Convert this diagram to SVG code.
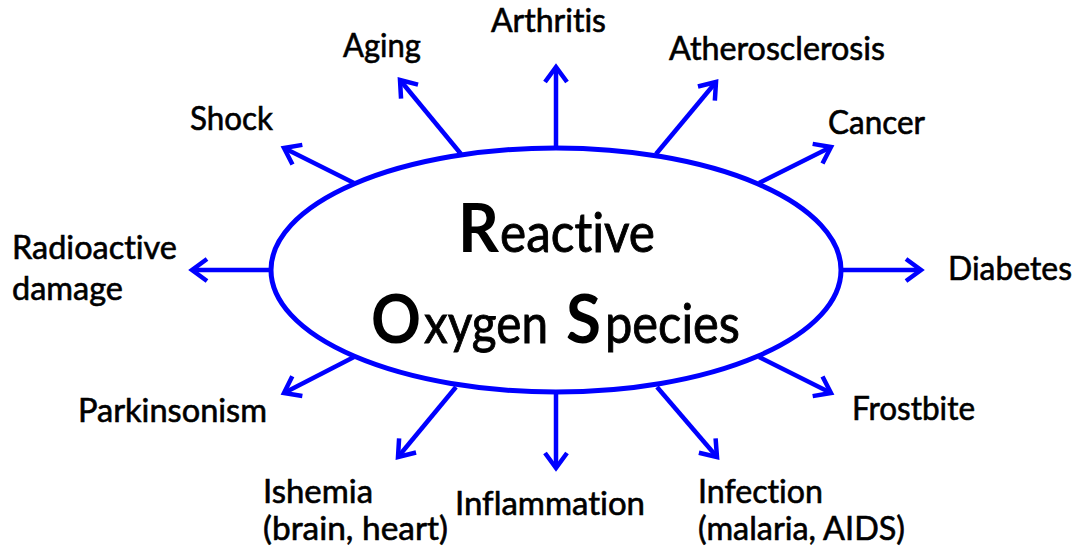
<svg xmlns="http://www.w3.org/2000/svg" width="1077" height="552" viewBox="0 0 1077 552">
<style>
text{font-family:Lato,"Liberation Sans",sans-serif;fill:#000;font-variant-ligatures:none;font-feature-settings:"liga" 0,"clig" 0}
.lbl{font-size:32px;stroke:#000;stroke-width:0.6px}
.big{font-weight:bold;font-size:66px;stroke:none}
.mid{font-size:54px;stroke:#000;stroke-width:0.9px}
.arr{stroke:#0000FF;stroke-width:4.5;fill:none;marker-end:url(#ah)}
</style>
<defs>
<marker id="ah" markerUnits="userSpaceOnUse" viewBox="-20 -14 24 28" refX="0" refY="0" markerWidth="24" markerHeight="28" orient="auto" overflow="visible">
<path d="M -15 -11 L 0 0 L -15 11" fill="none" stroke="#0000FF" stroke-width="4.5" stroke-linejoin="miter" stroke-linecap="butt"/>
</marker>
</defs>
<rect width="1077" height="552" fill="#fff"/>
<g id="connectors">
<line class="arr" x1="556" y1="150" x2="556" y2="67"/>
<line class="arr" x1="461" y1="154" x2="400" y2="80"/>
<line class="arr" x1="656" y1="154" x2="716" y2="82"/>
<line class="arr" x1="354" y1="183" x2="284" y2="148"/>
<line class="arr" x1="759" y1="183" x2="831" y2="147"/>
<line class="arr" x1="272" y1="270" x2="192" y2="270"/>
<line class="arr" x1="840" y1="270" x2="921" y2="270"/>
<line class="arr" x1="354" y1="357" x2="284" y2="393"/>
<line class="arr" x1="759" y1="357" x2="831" y2="393"/>
<line class="arr" x1="456" y1="387" x2="398" y2="457"/>
<line class="arr" x1="556" y1="392" x2="556" y2="468"/>
<line class="arr" x1="657" y1="387" x2="717" y2="457"/>
</g>
<g id="ros">
<ellipse cx="556" cy="270" rx="285" ry="122" fill="#fff" stroke="#0000FF" stroke-width="5"/>
<text y="252"><tspan class="big" x="458" textLength="41" lengthAdjust="spacingAndGlyphs">R</tspan><tspan class="mid" x="500" textLength="155" lengthAdjust="spacingAndGlyphs">eactive</tspan></text>
<text y="343"><tspan class="big" x="371" textLength="50" lengthAdjust="spacingAndGlyphs">O</tspan><tspan class="mid" x="424" textLength="124" lengthAdjust="spacingAndGlyphs">xygen</tspan><tspan class="big" x="566" textLength="35" lengthAdjust="spacingAndGlyphs">S</tspan><tspan class="mid" x="605" textLength="135" lengthAdjust="spacingAndGlyphs">pecies</tspan></text>
</g>
<g id="arthritis"><text class="lbl" x="491" y="32" textLength="115" lengthAdjust="spacingAndGlyphs">Arthritis</text></g>
<g id="aging"><text class="lbl" x="343" y="57" textLength="78" lengthAdjust="spacingAndGlyphs">Aging</text></g>
<g id="atherosclerosis"><text class="lbl" x="669" y="60" textLength="216" lengthAdjust="spacingAndGlyphs">Atherosclerosis</text></g>
<g id="shock"><text class="lbl" x="190" y="130" textLength="83" lengthAdjust="spacingAndGlyphs">Shock</text></g>
<g id="cancer"><text class="lbl" x="828" y="134" textLength="97" lengthAdjust="spacingAndGlyphs">Cancer</text></g>
<g id="radioactive"><text class="lbl" x="12" y="259" textLength="165" lengthAdjust="spacingAndGlyphs">Radioactive</text><text class="lbl" x="12" y="300" textLength="111" lengthAdjust="spacingAndGlyphs">damage</text></g>
<g id="diabetes"><text class="lbl" x="948" y="280" textLength="124" lengthAdjust="spacingAndGlyphs">Diabetes</text></g>
<g id="parkinsonism"><text class="lbl" x="78" y="422" textLength="189" lengthAdjust="spacingAndGlyphs">Parkinsonism</text></g>
<g id="frostbite"><text class="lbl" x="852" y="420" textLength="123" lengthAdjust="spacingAndGlyphs">Frostbite</text></g>
<g id="ishemia"><text class="lbl" x="263" y="503" textLength="110" lengthAdjust="spacingAndGlyphs">Ishemia</text><text class="lbl" x="263" y="540" textLength="185" lengthAdjust="spacingAndGlyphs">(brain, heart)</text></g>
<g id="inflammation"><text class="lbl" x="455" y="515" textLength="190" lengthAdjust="spacingAndGlyphs">Inflammation</text></g>
<g id="infection"><text class="lbl" x="698" y="503" textLength="125" lengthAdjust="spacingAndGlyphs">Infection</text><text class="lbl" x="698" y="540" textLength="207" lengthAdjust="spacingAndGlyphs">(malaria, AIDS)</text></g>
</svg>
